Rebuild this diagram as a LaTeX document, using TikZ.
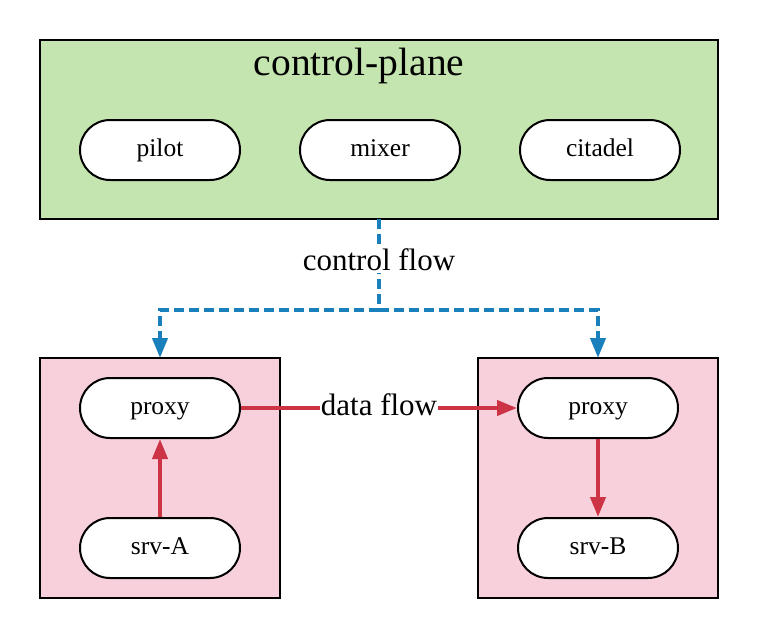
\documentclass[tikz,border=0pt]{standalone}
\usepackage{fontspec}
\setmainfont{Liberation Serif}
\usetikzlibrary{arrows.meta}
\definecolor{cpgreen}{HTML}{C5E5B0}
\definecolor{dppink}{HTML}{F8D0DC}
\definecolor{ctlblue}{HTML}{1A80BB}
\definecolor{datared}{HTML}{CC3344}
\begin{document}
\begin{tikzpicture}[x=1pt,y=-1pt,
  panel/.style={draw=black,line width=2pt,inner sep=0pt,outer sep=0pt},
  pill/.style={draw=black,fill=white,line width=2pt,rounded corners=30pt,
    minimum width=160pt,minimum height=60pt,inner sep=0pt,
    text height=17pt,text depth=5pt,font=\fontsize{25.5}{28}\selectfont},
  ctl/.style={draw=ctlblue,line width=4pt,dash pattern=on 10pt off 5pt,
    -{Triangle[length=20pt,width=15pt]}},
  ctlline/.style={draw=ctlblue,line width=4pt,dash pattern=on 10pt off 5pt},
  dat/.style={draw=datared,line width=4pt,-{Triangle[length=20pt,width=15pt]}},
  lbl/.style={fill=white,inner sep=2pt,font=\fontsize{31}{34}\selectfont}]
\useasboundingbox (0,0) rectangle (758,638);
\fill[white] (0,0) rectangle (758,638);
% panels
\node[panel,fill=cpgreen,minimum width=678pt,minimum height=179pt] (cp) at (379,129.5) {};
\node[panel,fill=dppink,minimum width=240pt,minimum height=240pt] (podA) at (160,478) {};
\node[panel,fill=dppink,minimum width=240pt,minimum height=240pt] (podB) at (598,478) {};
\node[font=\fontsize{39.5}{44}\selectfont] (title) at (359,66) {control-plane};
% control plane components
\node[pill] (pilot) at (160,150) {pilot};
\node[pill] (mixer) at (380,150) {mixer};
\node[pill] (citadel) at (600,150) {citadel};
% data plane
\node[pill] (proxyA) at (160,408) {proxy};
\node[pill] (srvA) at (160,548) {srv-A};
\node[pill] (proxyB) at (598,408) {proxy};
\node[pill] (srvB) at (598,548) {srv-B};
% control flow
\coordinate (split) at (379,310);
\coordinate (cpout) at (379,219);
\coordinate (lA) at (160,310);
\coordinate (lB) at (598,310);
\draw[ctlline] (cpout) -- (split);
\draw[ctl] (split) -- (lA) -- (podA.north);
\draw[ctl] (split) -- (lB) -- (podB.north);
\node[lbl] (cflabel) at (379,260) {control flow};
% data flow
\draw[dat] (srvA) -- (proxyA);
\draw[dat] (proxyB) -- (srvB);
\draw[dat] (proxyA) -- (proxyB);
\node[lbl,inner sep=1pt] (dflabel) at (379,405) {data flow};
\end{tikzpicture}
\end{document}
